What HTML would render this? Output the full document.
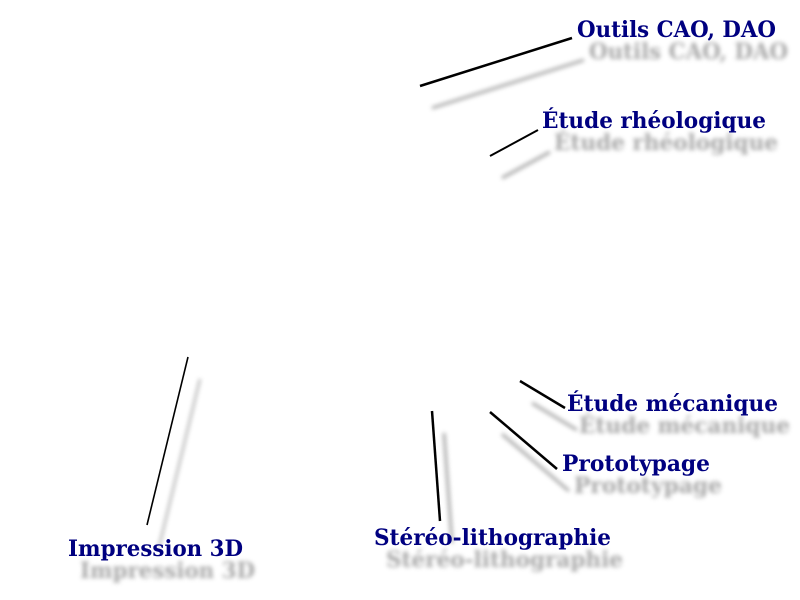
<!DOCTYPE html>
<html><head><meta charset="utf-8"><style>html,body{margin:0;padding:0;background:#fff;}svg{display:block}</style></head>
<body>
<svg width="800" height="600" viewBox="0 0 800 600" xmlns="http://www.w3.org/2000/svg">
<defs><filter id="b" x="-20%" y="-50%" width="140%" height="200%"><feGaussianBlur stdDeviation="2"/></filter></defs>
<g font-family="'DejaVu Serif', 'Liberation Serif', serif" font-weight="bold" font-size="22">
<g transform="translate(12,22)" filter="url(#b)" fill="#999" stroke="#999" opacity="0.85">
<g stroke-width="3">
<line x1="420" y1="86" x2="572" y2="38"/>
<line x1="490" y1="156" x2="538" y2="130"/>
<line x1="520" y1="381" x2="565" y2="408"/>
<line x1="490" y1="412" x2="557" y2="469"/>
<line x1="432" y1="411" x2="440" y2="521"/>
<line x1="188" y1="357" x2="147" y2="525" stroke-width="2"/>
</g>
<g stroke="none">
<text x="577" y="37" textLength="199" lengthAdjust="spacingAndGlyphs">Outils CAO, DAO</text>
<text x="542" y="128" textLength="224" lengthAdjust="spacingAndGlyphs">Étude rhéologique</text>
<text x="567" y="411" textLength="211" lengthAdjust="spacingAndGlyphs">Étude mécanique</text>
<text x="562" y="471" textLength="148" lengthAdjust="spacingAndGlyphs">Prototypage</text>
<text x="374" y="545" textLength="237" lengthAdjust="spacingAndGlyphs">Stéréo-lithographie</text>
<text x="68" y="556" textLength="175" lengthAdjust="spacingAndGlyphs">Impression 3D</text>
</g>
</g>
<g stroke="#000" stroke-width="2.5">
<line x1="420" y1="86" x2="572" y2="38"/>
<line x1="490" y1="156" x2="538" y2="130" stroke-width="2"/>
<line x1="520" y1="381" x2="565" y2="408"/>
<line x1="490" y1="412" x2="557" y2="469"/>
<line x1="432" y1="411" x2="440" y2="521"/>
<line x1="188" y1="357" x2="147" y2="525" stroke-width="1.6"/>
</g>
<g fill="#000080">
<text x="577" y="37" textLength="199" lengthAdjust="spacingAndGlyphs">Outils CAO, DAO</text>
<text x="542" y="128" textLength="224" lengthAdjust="spacingAndGlyphs">Étude rhéologique</text>
<text x="567" y="411" textLength="211" lengthAdjust="spacingAndGlyphs">Étude mécanique</text>
<text x="562" y="471" textLength="148" lengthAdjust="spacingAndGlyphs">Prototypage</text>
<text x="374" y="545" textLength="237" lengthAdjust="spacingAndGlyphs">Stéréo-lithographie</text>
<text x="68" y="556" textLength="175" lengthAdjust="spacingAndGlyphs">Impression 3D</text>
</g>
</g>
</svg>
</body></html>
